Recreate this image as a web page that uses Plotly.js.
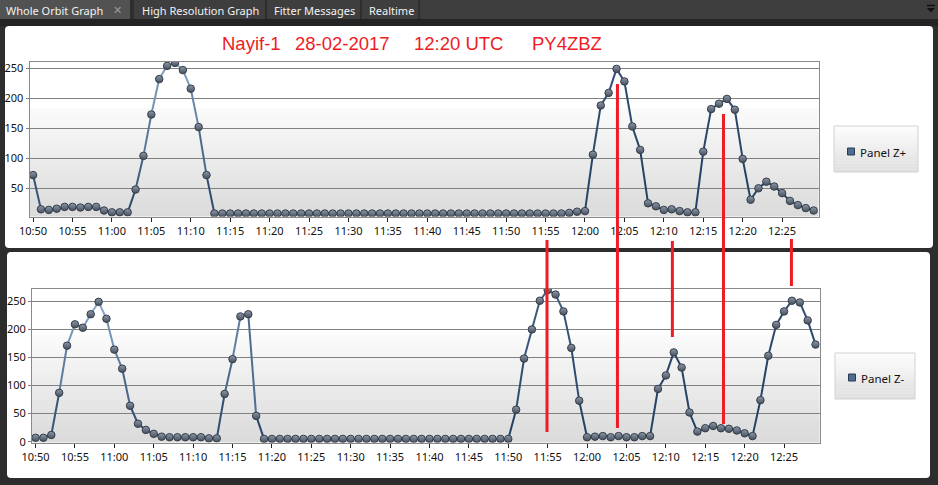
<!DOCTYPE html>
<html><head><meta charset="utf-8">
<script src="https://cdn.plot.ly/plotly-3.0.1.min.js"></script>
<style>html,body{margin:0;padding:0;background:#2d2d2d;overflow:hidden}#chart{width:938px;height:485px}</style>
</head><body><div id="chart"></div>
<script>
// ---------- DATA ----------
const DAY = "2017-02-28";
const times = [
"10:50","10:51","10:52","10:53","10:54","10:55","10:56","10:57","10:58","10:59",
"11:00","11:01","11:02","11:03","11:04","11:05","11:06","11:07","11:08","11:09",
"11:10","11:11","11:12","11:13","11:14","11:15","11:16","11:17","11:18","11:19",
"11:20","11:21","11:22","11:23","11:24","11:25","11:26","11:27","11:28","11:29",
"11:30","11:31","11:32","11:33","11:34","11:35","11:36","11:37","11:38","11:39",
"11:40","11:41","11:42","11:43","11:44","11:45","11:46","11:47","11:48","11:49",
"11:50","11:51","11:52","11:53","11:54","11:55","11:56","11:57","11:58","11:59",
"12:00","12:01","12:02","12:03","12:04","12:05","12:06","12:07","12:08","12:09",
"12:10","12:11","12:12","12:13","12:14","12:15","12:16","12:17","12:18","12:19",
"12:20","12:21","12:22","12:23","12:24","12:25","12:26","12:27","12:28","12:29"];
const panelZPlus = [
72,15,14,16,19,19,18,19,19,13,
10,10,10,48,104,173,232,254,259,247,
216,152,72,8,8,8,8,8,8,8,
8,8,8,8,8,8,8,8,8,8,
8,8,8,8,8,8,8,8,8,8,
8,8,8,8,8,8,8,8,8,8,
8,8,8,8,8,8,8,8,9,11,
12,106,188,209,249,228,153,114,25,20,
14,15,12,10,10,111,182,191,199,181,
99,31,50,61,53,42,29,22,17,13];
const panelZMinus = [
7,7,12,87,171,209,203,227,249,219,
164,130,64,32,21,14,9,8,8,8,
8,8,6,6,85,147,223,227,46,5,
5,5,5,5,5,5,5,5,5,5,
5,5,5,5,5,5,5,5,5,5,
5,5,5,5,5,5,5,5,5,5,
5,57,148,200,251,270,262,232,167,73,
8,9,10,8,10,8,8,10,10,94,
118,159,132,52,18,24,28,24,23,20,
15,10,74,153,208,232,251,248,216,173];
const seriesNames = ["Panel Z+", "Panel Z-"];
const yTicksTop = [50,100,150,200,250];
const yTicksBottom = [0,50,100,150,200,250];
const titleParts = ["Nayif-1","28-02-2017","12:20 UTC","PY4ZBZ"];
const tabLabels = ["Whole Orbit Graph","High Resolution Graph","Fitter Messages","Realtime"];
const markTimes = ["11:55:11","12:04:07","12:11:05","12:17:34","12:26:11"];

// ---------- helpers ----------
const W = 938, H = 485;
const px = x => x / W;
const py = y => 1 - y / H;
const full = t => DAY + " " + t;
const xs = times.map(full);

function hex(c){return "#"+c.map(v=>Math.round(v).toString(16).padStart(2,"0")).join("");}
function mix(a,b,t){return a.map((v,i)=>v+(b[i]-v)*t);}

const DARK=[34,62,98], LIGHT=[165,196,228];
function segTraces(vals, xa, ya, ymax){
  const out=[];
  for(let i=0;i<vals.length-1;i++){
    const xn=(i+0.5)/(vals.length-1);
    const yn=((vals[i]+vals[i+1])/2)/ymax;
    const t=Math.max(0,Math.min(1,yn*Math.max(0.1,1-1.15*xn)));
    out.push({x:[xs[i],xs[i+1]],y:[vals[i],vals[i+1]],xaxis:xa,yaxis:ya,type:"scatter",mode:"lines",
      line:{color:hex(mix(DARK,LIGHT,t)),width:2},hoverinfo:"skip",showlegend:false});
  }
  return out;
}
function markerTrace(vals,xa,ya,name){
  return {x:xs,y:vals,xaxis:xa,yaxis:ya,type:"scatter",mode:"markers",name:name,showlegend:false,
    marker:{size:7.5,color:"#8c99aa",gradient:{type:"vertical",color:"#46505e"},line:{color:"#353d48",width:1}}};
}

const shapes=[];
function rect(x0,y0,x1,y1,fill,line,lw){
  shapes.push({type:"rect",xref:"paper",yref:"paper",x0:px(x0),x1:px(x1),y0:py(y1),y1:py(y0),
    fillcolor:fill,line:{color:line||fill,width:lw===undefined?0:lw},layer:"below"});
}
function roundRect(x0,y0,x1,y1,r,fill){
  const X=px,Y=py;
  const p=`M ${X(x0+r)} ${Y(y0)} L ${X(x1-r)} ${Y(y0)} Q ${X(x1)} ${Y(y0)} ${X(x1)} ${Y(y0+r)} `+
    `L ${X(x1)} ${Y(y1-r)} Q ${X(x1)} ${Y(y1)} ${X(x1-r)} ${Y(y1)} L ${X(x0+r)} ${Y(y1)} `+
    `Q ${X(x0)} ${Y(y1)} ${X(x0)} ${Y(y1-r)} L ${X(x0)} ${Y(y0+r)} Q ${X(x0)} ${Y(y0)} ${X(x0+r)} ${Y(y0)} Z`;
  shapes.push({type:"path",xref:"paper",yref:"paper",path:p,fillcolor:fill,line:{width:0},layer:"below"});
}
function plotGradient(xref,yref){
  const N=40;
  for(let k=0;k<N;k++){
    const h=(k+0.5)/N; // 0 bottom, 1 top
    let c;
    if(h>0.7) c=[255,255,255];
    else c=mix([218,218,218],[251,251,251],h/0.7);
    shapes.push({type:"rect",xref:xref,yref:yref,x0:0,x1:1,y0:k/N,y1:Math.min(1,(k+1)/N+0.004),
      fillcolor:hex(c),line:{width:0},layer:"below"});
  }
}
function buttonGradient(x0,y0,x1,y1){
  const N=16;
  for(let k=0;k<N;k++){
    const a=y0+(y1-y0)*k/N, b=y0+(y1-y0)*(k+1)/N+0.3;
    const c=mix([252,252,252],[224,224,224],k/(N-1));
    rect(x0,a,x1,Math.min(b,y1),hex(c));
  }
  shapes.push({type:"rect",xref:"paper",yref:"paper",x0:px(x0),x1:px(x1),y0:py(y1),y1:py(y0),
    fillcolor:"rgba(0,0,0,0)",line:{color:"#d2d2d2",width:1},layer:"below"});
}

// ---------- chrome ----------
rect(0,0,938,19,"#3e3e3e");
rect(0,19,938,26,"#232323");
rect(0,0,130,19,"#525252");
rect(130,0,134,19,"#2e2e2e");
rect(265,0,267,19,"#2e2e2e");
rect(360,0,362,19,"#2e2e2e");
rect(418,0,420,19,"#2e2e2e");
roundRect(5,26,933,248,4,"#ffffff");
roundRect(7,252,930,478,4,"#ffffff");
plotGradient("x domain","y domain");
plotGradient("x2 domain","y2 domain");
buttonGradient(834,126,918,172);
buttonGradient(835,353,915,399);
// legend swatches
[[847.5,148,854.5,155],[848.5,374,855.5,381]].forEach(s=>{
  shapes.push({type:"rect",xref:"paper",yref:"paper",x0:px(s[0]),x1:px(s[2]),y0:py(s[3]),y1:py(s[1]),
    fillcolor:"#4f6d90",line:{color:"#2a3b52",width:1},layer:"above"});
});
// dropdown glyph
shapes.push({type:"line",xref:"paper",yref:"paper",x0:px(927),x1:px(935),y0:py(5.5),y1:py(5.5),line:{color:"#111",width:1.5}});
shapes.push({type:"path",xref:"paper",yref:"paper",path:`M ${px(927)} ${py(8)} L ${px(935)} ${py(8)} L ${px(931)} ${py(12.5)} Z`,fillcolor:"#111",line:{width:0}});

// red marker lines (time positions via the x axis)
const markSpans=[[240,432],[84,428],[241,337],[114,424],[239,286]];
markTimes.forEach((t,i)=>{
  shapes.push({type:"line",xref:"x",yref:"paper",x0:full(t),x1:full(t),y0:py(markSpans[i][1]),y1:py(markSpans[i][0]),
    line:{color:"#ee1c25",width:3},layer:"above"});
});

// ---------- annotations ----------
const uiFont="Noto Sans, Open Sans, sans-serif";
const ann=[];
const tabX=[4,140,272,367];
tabLabels.forEach((t,i)=>ann.push({text:t,xref:"paper",yref:"paper",x:px(tabX[i]),y:py(10),xanchor:"left",yanchor:"middle",
  showarrow:false,font:{family:uiFont,size:11,color:"#f2f2f2"}}));
ann.push({text:"✕",xref:"paper",yref:"paper",x:px(117),y:py(10),xanchor:"center",yanchor:"middle",showarrow:false,font:{family:"DejaVu Sans",size:11,color:"#9a9a9a"}});
const titleX=[220,293,412,530];
titleParts.forEach((t,i)=>ann.push({text:t,xref:"paper",yref:"paper",x:px(titleX[i]),y:py(43.5),xanchor:"left",yanchor:"middle",
  showarrow:false,font:{family:"Liberation Sans, Arial, sans-serif",size:18.5,color:"#ee1c25"}}));
ann.push({text:seriesNames[0],xref:"paper",yref:"paper",x:px(858),y:py(152),xanchor:"left",yanchor:"middle",showarrow:false,font:{family:uiFont,size:11.5,color:"#111"}});
ann.push({text:seriesNames[1],xref:"paper",yref:"paper",x:px(859),y:py(378),xanchor:"left",yanchor:"middle",showarrow:false,font:{family:uiFont,size:11.5,color:"#111"}});

// ---------- axes ----------
const tickFont={family:uiFont,size:11,color:"#111"};
function xAxis(dom,anchor,r1){
  return {type:"date",domain:dom,anchor:anchor,range:[full("10:49:33"),full(r1)],tickformat:"%H:%M",
    dtick:300000,tick0:full("10:50"),ticks:"outside",ticklen:4,tickcolor:"#222",tickwidth:1,
    showgrid:false,showline:true,linecolor:"#8a8a8a",linewidth:1,mirror:true,zeroline:false,tickfont:tickFont,fixedrange:true};
}
function yAxis(dom,anchor,range,vals){
  return {domain:dom,anchor:anchor,range:range,tickvals:vals,ticks:"outside",ticklen:3,tickcolor:"#7f7f7f",
    showgrid:true,gridcolor:"#808080",gridwidth:1,showline:true,linecolor:"#8a8a8a",linewidth:1,mirror:true,
    zeroline:false,tickfont:tickFont,fixedrange:true};
}

const data=[].concat(
  segTraces(panelZPlus,"x","y",262),
  [markerTrace(panelZPlus,"x","y",seriesNames[0])],
  segTraces(panelZMinus,"x2","y2",273),
  [markerTrace(panelZMinus,"x2","y2",seriesNames[1])]
);

const layout={
  width:W,height:H,margin:{l:0,r:0,t:0,b:0},
  paper_bgcolor:"#2d2d2d",plot_bgcolor:"rgba(0,0,0,0)",showlegend:false,
  xaxis:xAxis([px(29.5),px(818.5)],"y","12:29:37"),
  yaxis:yAxis([py(216.5),py(61.5)],"x",[3,261.3],yTicksTop),
  xaxis2:xAxis([px(32),px(819.5)],"y2","12:29:30"),
  yaxis2:yAxis([py(442.5),py(288.5)],"x2",[-1.4,272.8],yTicksBottom),
  shapes:shapes,annotations:ann,hovermode:false
};
Plotly.newPlot("chart",data,layout,{displayModeBar:false,staticPlot:true});
</script></body></html>
